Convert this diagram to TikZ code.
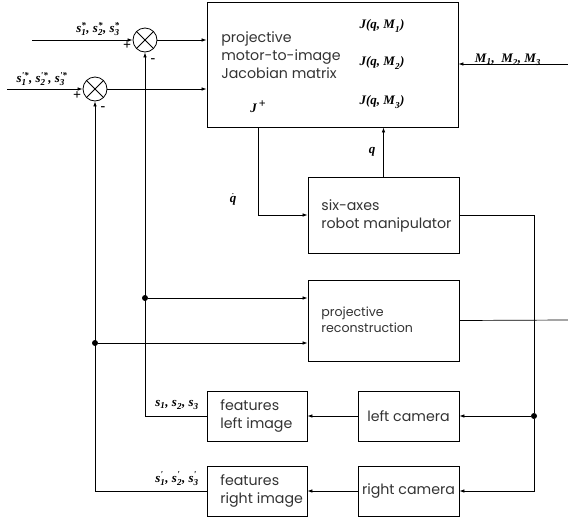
\documentclass[tikz,border=0pt]{standalone}
\usepackage{amsmath}
\usepackage{fontspec}
\setsansfont{Poppins}
\newfontfamily\labfont{Liberation Serif}[UprightFont=*, BoldFont=* Bold, ItalicFont=* Italic, BoldItalicFont=* Bold Italic]
\newcommand{\lb}[1]{\text{\labfont\bfseries\itshape #1}}
\usetikzlibrary{arrows.meta,calc}

\begin{document}
\begin{tikzpicture}[
  x=1pt, y=-1pt,
  font=\sffamily\fontsize{14.2}{18}\selectfont,
  >={Latex[length=5pt,width=3.5pt]},
  line width=0.7pt,
  blockbox/.style={rectangle, draw, line width=0.8pt, inner sep=0pt},
  sumjunc/.style={circle, draw, line width=0.8pt, minimum size=24pt, inner sep=0pt,
                  path picture={\draw (path picture bounding box.north west) -- (path picture bounding box.south east)
                                      (path picture bounding box.north east) -- (path picture bounding box.south west);}},
  boxtext/.style={align=left, text=black!80, anchor=west, inner sep=0pt},
  sig/.style={font=\fontsize{13}{15}\selectfont, inner sep=1pt},
  sign/.style={font=\labfont\bfseries\fontsize{14}{15}\selectfont, inner sep=0pt},
  junc/.style={circle, fill, inner sep=0pt, minimum size=6pt}
]
\useasboundingbox (0,0) rectangle (568,520);

% Jacobian block
\node[blockbox, minimum width=251pt, minimum height=125pt] (jac) at (332.5,64.5) {};
\node[boxtext] (jactxt) at (221,55) {projective\\motor-to-image\\Jacobian matrix};
\node[sig] (jm1) at (382,26)  {$\lb{J(q, M}_{\lb{1}}\lb{)}$};
\node[sig] (jm2) at (382,63)  {$\lb{J(q, M}_{\lb{2}}\lb{)}$};
\node[sig] (jm3) at (382,102) {$\lb{J(q, M}_{\lb{3}}\lb{)}$};
\node[sig] (jplus) at (258,107) {\labfont\bfseries\itshape J\,\raisebox{5pt}{\upshape\fontsize{12}{12}\selectfont +}};

% Summing junctions
\node[sumjunc] (sum1) at (145,40) {};
\node[sumjunc] (sum2) at (95,89) {};
\node[sign] at (127,46) {+};
\node[sign] at (153,61) {-};
\node[sign] at (77,96)  {+};
\node[sign] at (103,109) {-};

% Robot and reconstruction
\node[blockbox, minimum width=151pt, minimum height=76pt] (robot) at (383.5,215) {};
\node[boxtext] (robottxt) at (321,216) {six-axes\\robot manipulator};
\node[blockbox, minimum width=151pt, minimum height=81pt] (recon) at (383.5,320.5) {};
\node[boxtext, font=\sffamily\fontsize{12.6}{16}\selectfont] (recontxt) at (321,320) {projective\\reconstruction};

% Cameras and features
\node[blockbox, minimum width=101pt, minimum height=50pt, text=black!80] (lcam) at (408.5,416) {left camera};
\node[blockbox, minimum width=101pt, minimum height=50pt, text=black!80] (rcam) at (408.5,491) {right camera};
\node[blockbox, minimum width=100pt, minimum height=50pt] (featl) at (257,416) {};
\node[blockbox, minimum width=100pt, minimum height=50pt] (featr) at (257,491) {};
\node[boxtext] (featltxt) at (220,416) {features\\left image};
\node[boxtext] (featrtxt) at (220,491) {features\\right image};

% Signal labels
\node[sig] (sref)  at (98,29)  {$\lb{s}_{\lb{1}}^{\lb{*}}\lb{,\ s}_{\lb{2}}^{\lb{*}}\lb{,\ s}_{\lb{3}}^{\lb{*}}$};
\node[sig] (srefp) at (42,79)  {$\lb{s}_{\lb{1}}^{\lb{'*}}\lb{,\ s}_{\lb{2}}^{\lb{'*}}\lb{,\ s}_{\lb{3}}^{\lb{'*}}$};
\node[sig] (mlab)  at (508,60) {$\lb{M}_{\lb{1}}\lb{,\ \ M}_{\lb{2}}\lb{,\ M}_{\lb{3}}$};
\node[sig] (qlab)  at (372,152) {$\lb{q}$};
\node[sig] (qdlab) at (233,199) {$\dot{\lb{q}}$};
\node[sig] (sl)    at (177,405) {$\lb{s}_{\lb{1}}\lb{, s}_{\lb{2}}\lb{, s}_{\lb{3}}$};
\node[sig] (sr)    at (177,479) {$\lb{s}_{\lb{1}}^{\lb{'}}\lb{, s}_{\lb{2}}^{\lb{'}}\lb{, s}_{\lb{3}}^{\lb{'}}$};

% Free ends and junction points
\coordinate (in1) at (32,40);
\coordinate (in2) at (7,89);
\coordinate (min) at (568,64);
\coordinate (rout) at (568,320);
\coordinate (rcorner) at (534,215);
\node[junc] (camsplit) at (534,416) {};
\node[junc] (tap1) at (145,298) {};
\node[junc] (tap2) at (95,343) {};

% Edges - references
\draw[->] (in1) -- (sum1.west);
\draw[->] (in2) -- (sum2.west);
\draw[->] (sum1.east) -- (sum1 -| jac.west);
\draw[->] (sum2.east) -- (sum2 -| jac.west);
\draw[->] (min) -- (min -| jac.east);

% Edges - robot loop
\draw[->] (jplus |- jac.south) |- (robot.west);
\draw[->] (robot.north) -- (robot.north |- jac.south);
\draw (robot.east) -- (rcorner) -- (camsplit);
\draw[->] (camsplit) |- (rcam.east);
\draw[->] (camsplit) -- (lcam.east);
\draw (recon.east) -- (rout);

% Edges - features
\draw[->] (lcam.west) -- (featl.east);
\draw[->] (rcam.west) -- (featr.east);
\draw[->] (featl.west) -| (sum1.south);
\draw[->] (featr.west) -| (sum2.south);
\draw[->] (tap1) -- (tap1 -| recon.west);
\draw[->] (tap2) -- (tap2 -| recon.west);

\end{tikzpicture}
\end{document}
